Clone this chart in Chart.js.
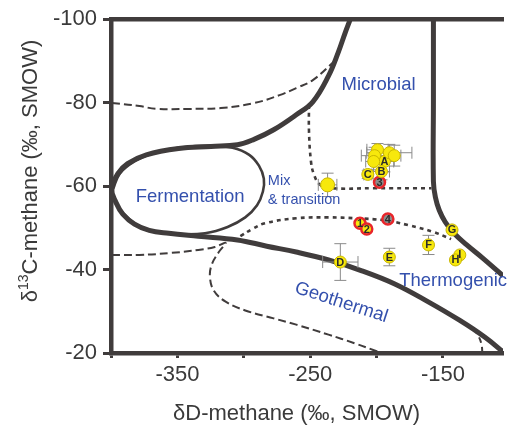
<!DOCTYPE html>
<html>
<head>
<meta charset="utf-8">
<script src="https://cdn.jsdelivr.net/npm/chart.js@4/dist/chart.umd.min.js"></script>
<style>
html, body { margin: 0; padding: 0; background: #fff; overflow: hidden; }
canvas { display: block; }
</style>
</head>
<body>
<canvas id="chart" width="511" height="425"></canvas>
<script>
// ---- axes ----
const dRange = [-400, -104.8];          // δD-methane (‰, SMOW)
const cRange = [-100, -20];             // δ13C-methane (‰, SMOW)
const dTickLabels = [-350, -250, -150];

// ---- genetic field boundaries ----
// thick outer envelope: top axis -> round the left lobe -> down to the lower right
const envelopeD = [-219.9, -223.6, -228.8, -236.2, -248.0, -260.5, -277.5, -292.3, -304.8, -324.7, -349.1, -373.4, -387.5, -394.8, -399.5,
                   -396.3, -391.1, -382.3, -371.2, -356.5, -334.3, -304.8, -282.7, -260.5, -236.2, -211.1, -186.7, -162.4, -137.3, -118.1, -101.8];
const envelopeC = [-99.9, -96.8, -92.1, -86.4, -80.2, -77.1, -73.5, -71.2, -69.9, -69.5, -69.0, -67.5, -65.4, -63.0, -59.3,
                   -56.1, -53.3, -50.9, -49.4, -48.7, -48.0, -47.1, -45.6, -44.2, -42.3, -39.7, -36.6, -32.5, -27.8, -23.7, -19.5];
// fermentation lobe
const fermentD = [-398.5, -393.4, -382.3, -367.5, -349.1, -324.7, -308.5, -295.9, -288.6, -284.9, -285.6, -290.0, -298.9, -312.2, -329.2, -349.1, -367.5, -382.3, -393.4, -398.5, -398.5];
const fermentC = [-59.2, -63.0, -65.9, -68.0, -69.2, -69.7, -69.2, -67.5, -64.9, -61.8, -58.7, -55.4, -52.5, -50.2, -48.7, -48.5, -49.2, -51.1, -54.5, -57.6, -59.2];
// microbial / thermogenic divide
const divideD = [-157.2, -157.2, -157.2, -155.7, -152.8, -148.3, -141.7, -132.1, -120.3, -104.8, -98.2];
const divideC = [-100.4, -80.2, -61.1, -57.3, -54.2, -51.4, -48.7, -45.9, -42.8, -38.5, -36.6];
// dashed limits
const upperDashD = [-399.3, -378.6, -366.1, -341.7, -317.3, -292.3, -273.1, -260.5, -248.0, -232.5];
const upperDashC = [-79.9, -79.2, -78.5, -78.5, -78.7, -79.9, -81.8, -83.5, -85.4, -89.7];
const geoDashD = [-399.3, -378.6, -354.2, -334.3, -321.8, -313.7, -318.8, -324.0, -325.5, -322.5, -313.7, -298.9, -277.5, -260.5, -236.2, -216.2, -201.5, -194.1];
const geoDashC = [-43.5, -43.5, -44.0, -44.7, -45.4, -46.4, -44.2, -41.3, -38.3, -34.9, -32.3, -30.2, -28.3, -26.8, -24.4, -22.3, -20.6, -19.7];
const hookDashD = [-126.9, -123.2, -121.0, -120.3];
const hookDashC = [-25.8, -24.0, -22.1, -19.7];
// dotted limits
const mixDotD = [-250.9, -250.9, -249.4, -247.2, -242.8, -234.7, -201.5, -158.7];
const mixDotC = [-79.5, -73.1, -65.9, -62.8, -60.4, -59.5, -59.5, -59.5];
const thermoDotD = [-302.6, -293.7, -284.1, -260.5, -236.2, -216.2, -194.1, -175.6, -157.2, -143.9];
const thermoDotC = [-48.0, -49.7, -51.1, -52.3, -52.5, -52.3, -51.8, -50.6, -49.0, -47.3];

// ---- samples ----
const mixD = [-236.9], mixC = [-60.3], mixErrD = [7], mixErrC = [2.8];
const clusterD = [-199.3, -190.4, -186.7, -201.5, -202.2];
const clusterC = [-68.7, -68.0, -67.3, -67.3, -65.9];
const clusterErrD = [8, 17, 5, 10, 6];
const clusterErrC = [1.5, 2, 2.5, 2, 2];
const sampleIds = ['A', 'B', 'C', 'D', 'E', 'F', 'G', 'I', 'H'];
const sampleD = [-194.1, -196.3, -206.6, -227.3, -190.4, -160.9, -143.2, -137.3, -140.6];
const sampleC = [-65.9, -63.5, -62.8, -41.8, -43.0, -45.9, -49.5, -43.5, -42.3];
const sampleErrD = [7, 6, 3, 13.3, 0, 0, 0, 0, 0];
const sampleErrC = [2.5, 2, 1, 4.4, 2.1, 2.3, 0, 0, 0];
const ringYellowIds = ['1', '2'];
const ringYellowD = [-212.5, -207.4];
const ringYellowC = [-51.1, -49.7];
const ringGreyIds = ['3', '4'];
const ringGreyD = [-197.8, -191.5];
const ringGreyC = [-60.9, -52.1];

// ---- styling ----
const FONT = "'Liberation Sans', Arial, Helvetica, sans-serif";
const INK = '#403c3c';
const TEXT = '#3a3a3a';
const BLUE = '#3450ad';
const YELLOW = '#f7e80c';
const YELLOW_EDGE = '#c9b600';
const RED = '#e8262b';
const GREY = '#8d8d8d';

const pts = (xs, ys) => xs.map((x, i) => ({ x, y: ys[i] }));

function boundary(xs, ys, width, dash) {
  return {
    type: 'scatter', data: pts(xs, ys), showLine: true, pointRadius: 0,
    borderColor: INK, borderWidth: width, borderDash: dash || [],
    tension: 0.4, fill: false, order: 3
  };
}

function samples(xs, ys, opts) {
  return Object.assign({
    type: 'scatter', data: pts(xs, ys), pointRadius: 6,
    backgroundColor: YELLOW, borderColor: YELLOW_EDGE, borderWidth: 1, order: 1
  }, opts);
}

const datasets = [
  samples(mixD, mixC, { pointRadius: 7, errD: mixErrD, errC: mixErrC }),
  samples(clusterD, clusterC, { errD: clusterErrD, errC: clusterErrC }),
  samples(sampleD, sampleC, { ids: sampleIds, errD: sampleErrD, errC: sampleErrC }),
  samples(ringYellowD, ringYellowC, { ids: ringYellowIds, borderColor: RED, borderWidth: 2.5, pointRadius: 5.5 }),
  samples(ringGreyD, ringGreyC, { ids: ringGreyIds, backgroundColor: GREY, borderColor: RED, borderWidth: 2.5, pointRadius: 5.5 }),
  boundary(envelopeD, envelopeC, 5),
  boundary(fermentD, fermentC, 2.6),
  boundary(divideD, divideC, 5),
  boundary(upperDashD, upperDashC, 2, [8, 4]),
  boundary(geoDashD, geoDashC, 2, [8, 4]),
  boundary(hookDashD, hookDashC, 2, [6, 4]),
  boundary(mixDotD, mixDotC, 2.6, [4, 4]),
  boundary(thermoDotD, thermoDotC, 2.6, [4, 4])
];

// field names, placed in data coordinates
const fieldLabels = [
  { text: 'Microbial', d: -198.5, c: -82.95, size: 18.5, align: 'center' },
  { text: 'Fermentation', d: -340.4, c: -56.1, size: 18.5, align: 'center' },
  { text: 'Mix', d: -281.9, c: -60.3, size: 14.5, align: 'left' },
  { text: '& transition', d: -281.9, c: -55.6, size: 14.5, align: 'left' },
  { text: 'Thermogenic', d: -183.0, c: -36.1, size: 18.5, align: 'left' },
  { text: 'Geothermal', d: -226.6, c: -32.1, size: 18.5, align: 'center', angle: 18 }
];

const overlay = {
  id: 'overlay',
  beforeDatasetsDraw(chart) { chart.$errorsDrawn = false; },
  beforeDatasetDraw(chart, args) {
    const ds = chart.data.datasets[args.index];
    if (chart.$errorsDrawn || ds.order !== 1) return;
    chart.$errorsDrawn = true;
    const { ctx, scales: { x, y } } = chart;
    const cap = 6;
    ctx.save();
    ctx.strokeStyle = '#8a8a8a';
    ctx.lineWidth = 1;
    chart.data.datasets.forEach(set => {
      if (!set.errD) return;
      set.data.forEach((p, i) => {
        const px = x.getPixelForValue(p.x), py = y.getPixelForValue(p.y);
        const ed = set.errD[i], ec = set.errC[i];
        ctx.beginPath();
        if (ed > 0) {
          const l = x.getPixelForValue(p.x - ed), r = x.getPixelForValue(p.x + ed);
          ctx.moveTo(l, py); ctx.lineTo(r, py);
          ctx.moveTo(l, py - cap); ctx.lineTo(l, py + cap);
          ctx.moveTo(r, py - cap); ctx.lineTo(r, py + cap);
        }
        if (ec > 0) {
          const t = y.getPixelForValue(p.y - ec), b = y.getPixelForValue(p.y + ec);
          ctx.moveTo(px, t); ctx.lineTo(px, b);
          ctx.moveTo(px - cap, t); ctx.lineTo(px + cap, t);
          ctx.moveTo(px - cap, b); ctx.lineTo(px + cap, b);
        }
        ctx.stroke();
      });
    });
    ctx.restore();
  },
  afterDatasetsDraw(chart) {
    const { ctx, scales: { x, y } } = chart;
    ctx.save();
    // sample identifiers
    ctx.font = '600 11px ' + FONT;
    ctx.textAlign = 'center';
    ctx.textBaseline = 'middle';
    ctx.fillStyle = '#2b2b2b';
    chart.data.datasets.forEach((set, di) => {
      if (!set.ids) return;
      const meta = chart.getDatasetMeta(di);
      meta.data.forEach((el, i) => ctx.fillText(set.ids[i], el.x, el.y + 0.5));
    });
    // field names
    ctx.fillStyle = BLUE;
    fieldLabels.forEach(l => {
      ctx.font = l.size + 'px ' + FONT;
      ctx.textAlign = l.align;
      const px = x.getPixelForValue(l.d), py = y.getPixelForValue(l.c);
      if (l.angle) {
        ctx.save();
        ctx.translate(px, py);
        ctx.rotate(l.angle * Math.PI / 180);
        ctx.textBaseline = 'middle';
        ctx.fillText(l.text, 0, 0);
        ctx.restore();
      } else {
        ctx.textBaseline = 'alphabetic';
        ctx.fillText(l.text, px, py);
      }
    });
    ctx.restore();
  },
  afterDraw(chart) {
    const { ctx } = chart;
    ctx.save();
    ctx.fillStyle = TEXT;
    ctx.textBaseline = 'alphabetic';
    // x-axis title
    ctx.font = '22px ' + FONT;
    ctx.textAlign = 'center';
    ctx.fillText('δD-methane (‰, SMOW)', 296.5, 420);
    // y-axis title with superscript mass number
    const big = '22px ' + FONT, small = '14px ' + FONT;
    ctx.font = big; const w1 = ctx.measureText('δ').width;
    const rest = 'C-methane (‰, SMOW)'; const w3 = ctx.measureText(rest).width;
    ctx.font = small; const w2 = ctx.measureText('13').width;
    const total = w1 + w2 + w3;
    ctx.translate(37, 171);
    ctx.rotate(-Math.PI / 2);
    ctx.textAlign = 'left';
    let s = -total / 2;
    ctx.font = big; ctx.fillText('δ', s, 0); s += w1;
    ctx.font = small; ctx.fillText('13', s, -9); s += w2;
    ctx.font = big; ctx.fillText(rest, s, 0);
    ctx.restore();
  }
};

new Chart(document.getElementById('chart'), {
  type: 'scatter',
  data: { datasets },
  options: {
    responsive: false,
    animation: false,
    events: [],
    layout: { padding: 0 },
    plugins: { legend: { display: false }, tooltip: { enabled: false } },
    scales: {
      x: {
        type: 'linear', position: 'bottom', min: dRange[0], max: dRange[1],
        afterFit: s => { s.height = 72; },
        ticks: {
          stepSize: 50, includeBounds: false, autoSkip: false, maxRotation: 0, padding: 4,
          color: TEXT, font: { family: FONT, size: 22 },
          callback: v => dTickLabels.includes(v) ? String(v) : ''
        },
        grid: { drawOnChartArea: false, tickLength: 5, tickWidth: 3, tickColor: INK },
        border: { color: INK, width: 4.5 }
      },
      y: {
        type: 'linear', position: 'left', min: cRange[0], max: cRange[1], reverse: true,
        afterFit: s => { s.width = 111; },
        ticks: { stepSize: 20, padding: 6, color: TEXT, font: { family: FONT, size: 22 } },
        grid: { drawOnChartArea: false, tickLength: 8, tickWidth: 3, tickColor: INK },
        border: { color: INK, width: 4.5 }
      },
      top: {
        type: 'linear', position: 'top', min: dRange[0], max: dRange[1],
        afterFit: s => { s.height = 17; },
        ticks: { display: false },
        grid: { drawOnChartArea: false, drawTicks: false },
        border: { color: INK, width: 4.5 }
      }
    }
  },
  plugins: [overlay]
});
</script>
</body>
</html>
